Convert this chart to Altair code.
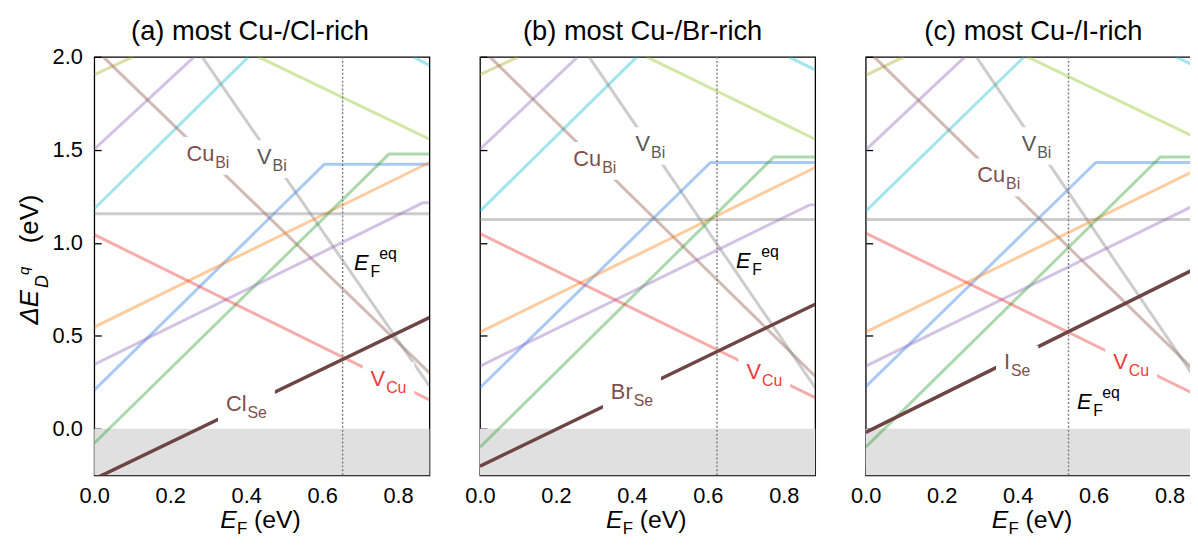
import altair as alt
import pandas as pd

# ---------------- values ----------------
EF_MAX = 0.8826          # right end of the E_F axis (band gap), eV
Y_MIN, Y_MAX = -0.25, 2.0

titles = ["(a) most Cu-/Cl-rich", "(b) most Cu-/Br-rich", "(c) most Cu-/I-rich"]
ef_eq = [0.654, 0.624, 0.534]

x_ticks = [0.0, 0.2, 0.4, 0.6, 0.8]
y_ticks = [0.0, 0.5, 1.0, 1.5, 2.0]

# pale defect lines: vertex lists (E_F, dE) for panels a, b, c
olive_lo_x = [[0, 0.102], [0, 0.100], [0, 0.100]]
olive_lo_y = [[1.904, 2.0], [1.904, 2.0], [1.900, 2.0]]
olive_hi_x = [[0.432, EF_MAX], [0.439, EF_MAX], [0.426, EF_MAX]]
olive_hi_y = [[2.0, 1.557], [2.0, 1.557], [2.0, 1.552]]
pink_x = [[0, 0.263], [0, 0.257], [0, 0.261]]
pink_y = [[1.503, 2.0], [1.503, 2.0], [1.500, 2.0]]
cyan_lo_x = [[0, 0.406], [0, 0.413], [0, 0.417]]
cyan_lo_y = [[1.183, 2.0], [1.170, 2.0], [1.170, 2.0]]
cyan_hi_x = [[0.841, EF_MAX], [0.813, EF_MAX], [0.817, EF_MAX]]
cyan_hi_y = [[2.0, 1.954], [2.0, 1.930], [2.0, 1.935]]
cubi_x = [[0.0235, EF_MAX], [0.026, EF_MAX], [0.022, EF_MAX]]
cubi_y = [[2.0, 0.301], [2.0, 0.283], [2.0, 0.280]]
vbi_x = [[0.284, EF_MAX], [0.287, EF_MAX], [0.291, EF_MAX]]
vbi_y = [[2.0, 0.230], [2.0, 0.221], [2.0, 0.225]]
blue_x = [[0, 0.606, EF_MAX], [0, 0.607, EF_MAX], [0, 0.606, EF_MAX]]
blue_y = [[0.208, 1.423, 1.423], [0.221, 1.432, 1.432], [0.227, 1.432, 1.432]]
orange_x = [[0, EF_MAX], [0, EF_MAX], [0, EF_MAX]]
orange_y = [[0.547, 1.432], [0.520, 1.405], [0.520, 1.405]]
green_x = [[0, 0.776, EF_MAX], [0, 0.774, EF_MAX], [0, 0.776, EF_MAX]]
green_y = [[-0.078, 1.477, 1.477], [-0.099, 1.462, 1.462], [-0.099, 1.462, 1.462]]
purple_x = [[0, 0.865, EF_MAX], [0, 0.868, EF_MAX], [0, 0.868, EF_MAX]]
purple_y = [[0.346, 1.215, 1.215], [0.337, 1.204, 1.204], [0.337, 1.204, 1.204]]
vcu_x = [[0, EF_MAX], [0, EF_MAX], [0, EF_MAX]]
vcu_y = [[1.044, 0.155], [1.049, 0.168], [1.052, 0.170]]
flat_x = [[0, EF_MAX], [0, EF_MAX], [0, EF_MAX]]
flat_y = [[1.156, 1.156], [1.125, 1.125], [1.125, 1.125]]

# halogen-on-Se defect (dark line)
xse_x = [[0, EF_MAX], [0, EF_MAX], [0, EF_MAX]]
xse_y = [[-0.27, 0.598], [-0.201, 0.670], [-0.019, 0.876]]

# defect labels: main text, subscript, anchor (E_F, dE) at the main/sub junction
lab_main = [["Cu", "V", "V", "Cl"], ["Cu", "V", "V", "Br"], ["V", "Cu", "I", "V"]]
lab_sub = [["Bi", "Bi", "Cu", "Se"], ["Bi", "Bi", "Cu", "Se"], ["Bi", "Bi", "Se", "Cu"]]
lab_x = [[0.316, 0.467, 0.766, 0.401], [0.319, 0.448, 0.740, 0.402], [0.449, 0.367, 0.380, 0.690]]
lab_y = [[1.441, 1.423, 0.230, 0.096], [1.414, 1.494, 0.266, 0.159], [1.494, 1.325, 0.319, 0.319]]

# E_F^eq label positions
eq_x = [0.684, 0.674, 0.556]
eq_y = [0.853, 0.864, 0.105]

# ---------------- styling / layout ----------------
FONT = "Liberation Sans"
W, H = 338, 422
PX_X = EF_MAX / W
PX_Y = (Y_MAX - Y_MIN) / H
TICK_FS = 22
TITLE_CX = [157, 164, 169]     # title centre (px from plot left)

PALE = [
    ("olive", olive_lo_x, olive_lo_y), ("olive2", olive_hi_x, olive_hi_y),
    ("pink", pink_x, pink_y), ("cyan", cyan_lo_x, cyan_lo_y), ("cyan", cyan_hi_x, cyan_hi_y),
    ("cubi", cubi_x, cubi_y), ("vbi", vbi_x, vbi_y), ("blue", blue_x, blue_y),
    ("orange", orange_x, orange_y), ("green", green_x, green_y), ("purple", purple_x, purple_y),
    ("vcu", vcu_x, vcu_y), ("flat", flat_x, flat_y),
]
COLORS = {
    "olive": "#a8a81e", "olive2": "#8cc21e", "pink": "#9467bd", "cyan": "#17becf",
    "cubi": "#8c564b", "vbi": "#7f7f7f", "blue": "#2a78e0", "orange": "#ff7f0e",
    "green": "#2ca02c", "purple": "#9467bd", "vcu": "#e8302e", "flat": "#7f7f7f",
    "L_CuBi": "#7e4f4b", "L_VBi": "#595959", "L_VCu": "#f03c3c",
    "L_ClSe": "#7e4f4b", "L_BrSe": "#7e4f4b", "L_ISe": "#7e4f4b",
}
color_scale = alt.Scale(domain=list(COLORS.keys()), range=list(COLORS.values()))
CW = {"C": .722, "u": .556, "B": .667, "i": .222, "V": .667, "l": .222,
      "S": .667, "e": .556, "r": .333, "I": .278}


def tw(s, fs):
    return sum(CW.get(c, .6) for c in s) * fs


xscale = alt.Scale(domain=[0, EF_MAX], nice=False, zero=False)
yscale = alt.Scale(domain=[Y_MIN, Y_MAX], nice=False, zero=False)


def xaxis():
    return alt.Axis(values=x_ticks, format=".1f", title=None, grid=False, domain=False,
                    offset=-7, tickSize=7, tickColor="black", tickWidth=1.3,
                    labelFontSize=TICK_FS, labelFont=FONT, labelColor="black",
                    labelPadding=10, labelFlush=False)


def yaxis(labels):
    return alt.Axis(values=y_ticks, format=".1f", title=None, grid=False, domain=False,
                    offset=-7, tickSize=7, tickColor="black", tickWidth=1.3,
                    labelFontSize=TICK_FS, labelFont=FONT, labelColor="black",
                    labelPadding=12, labels=labels)


one = pd.DataFrame({"k": [0]})


def ptext(txt, x, y, size, italic=False, angle=0, align="left"):
    return alt.Chart(one).mark_text(
        text=txt, fontSize=size, font=FONT, fontStyle="italic" if italic else "normal",
        angle=angle, align=align, baseline="alphabetic", color="black"
    ).encode(x=alt.value(x), y=alt.value(y))


def panel(i):
    X = lambda f="x": alt.X(f"{f}:Q", scale=xscale, axis=xaxis())
    Y = lambda f="y": alt.Y(f"{f}:Q", scale=yscale, axis=yaxis(i == 0))

    shade = alt.Chart(pd.DataFrame({"x": [0.0], "x2": [EF_MAX], "y": [Y_MIN], "y2": [0.0]})
                      ).mark_rect(color="#e0e0e0").encode(x=X(), x2="x2", y=Y(), y2="y2")

    rows = []
    for k, (name, xs, ys) in enumerate(PALE):
        for j, (x, y) in enumerate(zip(xs[i], ys[i])):
            rows.append({"seg": k, "s": name, "x": x, "y": y, "o": j})
    pale = alt.Chart(pd.DataFrame(rows)).mark_line(strokeWidth=3, opacity=0.4, clip=True).encode(
        x=X(), y=Y(), color=alt.Color("s:N", scale=color_scale, legend=None),
        detail="seg:N", order="o:Q")

    eqline = alt.Chart(pd.DataFrame({"x": [ef_eq[i]]})).mark_rule(
        color="#7a7a7a", strokeDash=[2, 2], strokeWidth=1.4).encode(x=X())

    dark = alt.Chart(pd.DataFrame({"x": xse_x[i], "y": xse_y[i], "o": [0, 1]})).mark_line(
        color="#6e4545", strokeWidth=3.5, clip=True).encode(x=X(), y=Y(), order="o:Q")

    lrows = []
    for m, s, x, y in zip(lab_main[i], lab_sub[i], lab_x[i], lab_y[i]):
        mw, sw = tw(m, 22), tw(s, 16)
        lrows.append({"main": m, "sub": s, "x": x, "y": y, "key": "L_" + m + s,
                      "bx0": x - (mw + 8) * PX_X, "bx1": x + (sw + 9) * PX_X,
                      "by0": y + 24 * PX_Y, "by1": y - 14 * PX_Y})
    lab = pd.DataFrame(lrows)
    boxes = alt.Chart(lab).mark_rect(color="white").encode(
        x=X("bx0"), x2="bx1", y=Y("by0"), y2="by1")
    tmain = alt.Chart(lab).mark_text(align="right", baseline="alphabetic", fontSize=22, font=FONT).encode(
        x=X(), y=Y(), text="main:N", color=alt.Color("key:N", scale=color_scale, legend=None))
    tsub = alt.Chart(lab).mark_text(align="left", baseline="alphabetic", fontSize=16, font=FONT,
                                    dx=1, dy=7).encode(
        x=X(), y=Y(), text="sub:N", color=alt.Color("key:N", scale=color_scale, legend=None))

    eqd = pd.DataFrame({"x": [eq_x[i]], "y": [eq_y[i]]})
    eE = alt.Chart(eqd).mark_text(text="E", align="left", baseline="alphabetic", fontSize=22,
                                  font=FONT, fontStyle="italic", color="black").encode(x=X(), y=Y())
    eF = alt.Chart(eqd).mark_text(text="F", align="left", baseline="alphabetic", fontSize=16,
                                  font=FONT, dx=16.5, dy=7, color="black").encode(x=X(), y=Y())
    eEq = alt.Chart(eqd).mark_text(text="eq", align="left", baseline="alphabetic", fontSize=16,
                                   font=FONT, dx=25.5, dy=-11, color="black").encode(x=X(), y=Y())

    layers = [shade, pale, eqline, dark, boxes, tmain, tsub, eE, eF, eEq,
              ptext(titles[i], TITLE_CX[i], -17, 27.5, align="center"),
              ptext("E", 127, 475, 25, italic=True),
              ptext("F", 144, 481, 17),
              ptext("(eV)", 161, 475, 25)]
    if i == 0:
        layers += [ptext("\u0394E", -57, 270, 26, italic=True, angle=270),
                   ptext("D", -47, 233, 18, italic=True, angle=270),
                   ptext("q", -66, 220, 15, italic=True, angle=270),
                   ptext("(eV)", -57, 188, 26, angle=270)]
    return alt.layer(*layers).properties(width=W, height=H)


chart = alt.hconcat(*[panel(i) for i in range(3)], spacing=34).properties(
    padding={"left": 8, "top": 7, "right": -12, "bottom": 0}
).configure_view(stroke="black", strokeWidth=1.3)

chart.save("out.html", embed_options={"renderer": "svg", "actions": False})
